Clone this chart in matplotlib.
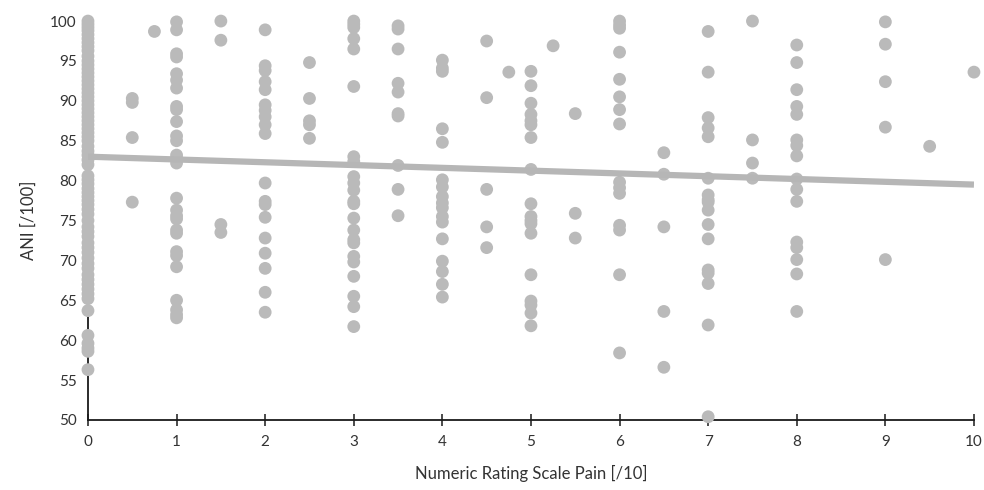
import numpy as np
import matplotlib
matplotlib.use("Agg")
import matplotlib.pyplot as plt

plt.rcParams['font.family'] = ['Lato', 'DejaVu Sans']

# NRS pain score -> list of ANI values
ani_by_nrs = {
    0: [100, 99.6, 99.2, 98.8, 98.3, 97.8, 97.3, 96.8, 96.3, 95.6, 95.0, 94.5, 94.0, 93.5,
        93.0, 92.5, 92.0, 91.5, 91.0, 90.5, 90.0, 89.5, 89.0, 88.5, 88.0, 87.5, 87.0,
        86.5, 86.0, 85.5, 85.0, 84.3, 83.7, 83.2, 82.6, 82.0, 80.6, 80.1, 79.6, 79.0,
        78.5, 78.0, 77.5, 77.0, 76.4, 75.8, 75.0, 74.2, 73.6, 73.0, 72.2, 71.6, 71.0,
        70.3, 69.6, 69.0, 68.2, 67.6, 67.0, 66.4, 65.8, 65.2, 63.7, 60.6, 59.6, 59.0, 58.6, 56.3],
    0.5: [90.3, 89.8, 85.4, 77.3],
    0.75: [98.7],
    1: [99.9, 98.9, 95.9, 95.5, 93.4, 92.6, 91.6, 89.3, 88.9, 87.4, 85.6, 85.0, 83.2,
        82.8, 82.2, 77.8, 76.3, 75.6, 75.2, 73.8, 73.4, 71.1, 70.6, 69.2, 65.0, 63.8, 63.2, 62.8],
    1.5: [100, 97.6, 74.5, 73.5],
    2: [98.9, 94.4, 93.8, 92.4, 91.4, 89.5, 88.8, 88.0, 87.0, 85.9, 79.7, 77.4, 77.0,
        75.4, 72.8, 70.9, 69.0, 66.0, 63.5],
    2.5: [94.8, 90.3, 87.5, 87.0, 85.3],
    3: [100, 99.6, 99.2, 97.8, 96.5, 91.8, 83.0, 82.4, 80.5, 79.7, 78.8, 77.4, 77.1,
        75.3, 73.8, 72.6, 72.2, 70.5, 69.8, 68.0, 65.5, 64.2, 61.7],
    3.5: [99.4, 99.0, 96.5, 92.2, 91.1, 88.4, 88.1, 81.9, 78.9, 75.6],
    4: [95.1, 94.1, 93.7, 86.5, 84.8, 80.1, 79.2, 78.0, 77.2, 76.6, 75.5, 74.8, 72.7,
        69.9, 68.6, 67.0, 65.4],
    4.5: [97.5, 90.4, 78.9, 74.2, 71.6],
    4.75: [93.6],
    5: [93.7, 91.9, 89.7, 88.3, 87.5, 87.0, 85.4, 81.4, 77.1, 75.5, 75.0, 74.6, 73.4,
        68.2, 64.9, 64.4, 63.4, 61.8],
    5.25: [96.9],
    5.5: [88.4, 75.9, 72.8],
    6: [100, 99.5, 99.1, 96.1, 92.7, 90.5, 88.9, 87.1, 79.8, 79.1, 78.4, 74.4, 73.8, 68.2, 58.4],
    6.5: [83.5, 80.8, 74.2, 63.6, 56.6],
    7: [98.7, 93.6, 87.9, 86.6, 85.5, 80.3, 78.2, 77.6, 77.3, 76.3, 74.5, 72.7, 68.8,
        68.4, 67.1, 61.9, 50.4],
    7.5: [100, 85.1, 82.2, 80.3],
    8: [97.0, 94.8, 91.4, 89.3, 88.3, 85.1, 84.4, 83.1, 80.2, 78.9, 77.4, 72.3, 71.6,
        70.1, 68.3, 63.6],
    9: [99.9, 97.1, 92.4, 86.7, 70.1],
    9.5: [84.3],
    10: [93.6],
}

nrs = np.array([k for k, vals in ani_by_nrs.items() for _ in vals], dtype=float)
ani = np.array([v for vals in ani_by_nrs.values() for v in vals], dtype=float)

# linear trendline as drawn in the original (points overlap too much to refit)
trend_intercept = 83.0
trend_slope = -0.35

x_ticks = list(range(0, 11))
y_ticks = list(range(50, 101, 5))

fig = plt.figure(figsize=(9.84, 4.90), dpi=100)
ax = fig.add_axes([0.0894, 0.143, 0.9004, 0.814])

ax.scatter(nrs, ani, s=85, color='#bababa', edgecolors='none', clip_on=False, zorder=2)

xs = np.array([0, 10])
ax.plot(xs, trend_intercept + trend_slope * xs, color='#b6b6b6', lw=4.5,
        solid_capstyle='butt', zorder=3)

ax.set_xlim(0, 10)
ax.set_ylim(50, 100)
ax.set_xticks(x_ticks)
ax.set_yticks(y_ticks)

for side in ['top', 'right']:
    ax.spines[side].set_visible(False)
for side in ['left', 'bottom']:
    ax.spines[side].set_linewidth(1.3)
    ax.spines[side].set_color('#1a1a1a')
    ax.spines[side].set_zorder(1)

ax.tick_params(axis='x', direction='inout', length=9, width=1.1, color='#1a1a1a',
               labelsize=11, labelcolor='#333333', pad=6)
ax.tick_params(axis='y', length=0, labelsize=11, labelcolor='#333333', pad=8)

ax.set_xlabel('Numeric Rating Scale Pain [/10]', fontsize=12, color='#333333', labelpad=12)
ax.set_ylabel('ANI [/100]', fontsize=12, color='#333333', labelpad=10)

fig.savefig('out.png', dpi=100)
